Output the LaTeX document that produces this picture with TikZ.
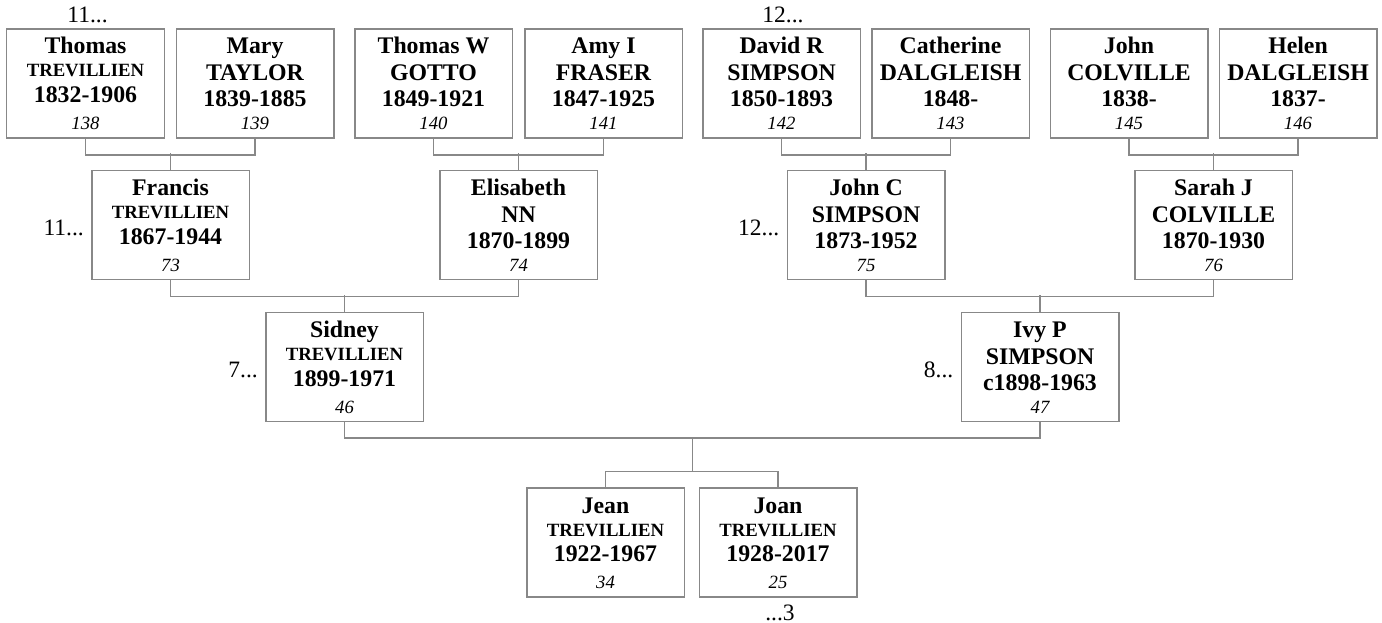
\documentclass[tikz,border=0pt]{standalone}
\usepackage{fontspec}
\setmainfont{Liberation Serif}
\definecolor{boxgray}{RGB}{136,136,136}
\tikzset{
  pbox/.style={draw=boxgray, line width=1.5bp, minimum width=157.5bp, minimum height=109bp, inner sep=0pt},
  conn/.style={draw=boxgray, line width=1.5bp},
  bigt/.style={font=\fontsize{23.8bp}{26bp}\selectfont\bfseries, inner sep=0pt, anchor=base},
  smallt/.style={font=\fontsize{18.7bp}{20bp}\selectfont\bfseries, inner sep=0pt, anchor=base},
  numt/.style={font=\fontsize{18.7bp}{20bp}\selectfont\itshape, inner sep=0pt, anchor=base},
  labt/.style={font=\fontsize{23.5bp}{26bp}\selectfont, inner sep=0pt},
}
% name, cx, top, line1, line2, line3, number
\newcommand\personA[7]{%
  \node[pbox] (#1) at (#2,#3+54.5) {};
  \node[bigt] (#1-a) at (#2,#3+25) {#4};
  \node[bigt] (#1-b) at (#2,#3+51.5) {#5};
  \node[bigt] (#1-c) at (#2,#3+78) {#6};
  \node[numt] (#1-d) at (#2,#3+100.5) {#7};
}
\newcommand\personB[7]{%
  \node[pbox] (#1) at (#2,#3+54.5) {};
  \node[bigt] (#1-a) at (#2,#3+25) {#4};
  \node[smallt] (#1-b) at (#2,#3+48) {#5};
  \node[bigt] (#1-c) at (#2,#3+73.5) {#6};
  \node[numt] (#1-d) at (#2,#3+100.5) {#7};
}
\begin{document}
\begin{tikzpicture}[x=1bp,y=-1bp]
\fill[white] (0,0) rectangle (1382,623);
\useasboundingbox (0,0) rectangle (1382,623);

% generation 1
\personB{thomas}{85.5}{29}{Thomas}{TREVILLIEN}{1832-1906}{138}
\personA{mary}{255}{29}{Mary}{TAYLOR}{1839-1885}{139}
\personA{thomasw}{433.5}{29}{Thomas W}{GOTTO}{1849-1921}{140}
\personA{amy}{603.5}{29}{Amy I}{FRASER}{1847-1925}{141}
\personA{david}{781.5}{29}{David R}{SIMPSON}{1850-1893}{142}
\personA{catherine}{950.5}{29}{Catherine}{DALGLEISH}{1848-}{143}
\personA{johncol}{1129}{29}{John}{COLVILLE}{1838-}{145}
\personA{helen}{1298}{29}{Helen}{DALGLEISH}{1837-}{146}

% generation 2
\personB{francis}{170.5}{170.5}{Francis}{TREVILLIEN}{1867-1944}{73}
\personA{elisabeth}{518.5}{170.5}{Elisabeth}{NN}{1870-1899}{74}
\personA{johnc}{866}{170.5}{John C}{SIMPSON}{1873-1952}{75}
\personA{sarah}{1213.5}{170.5}{Sarah J}{COLVILLE}{1870-1930}{76}

% generation 3
\personB{sidney}{344.5}{312.5}{Sidney}{TREVILLIEN}{1899-1971}{46}
\personA{ivy}{1040}{312.5}{Ivy P}{SIMPSON}{c1898-1963}{47}

% generation 4
\personB{jean}{605.5}{488}{Jean}{TREVILLIEN}{1922-1967}{34}
\personB{joan}{778}{488}{Joan}{TREVILLIEN}{1928-2017}{25}

% connectors generation 1 -> 2
\draw[conn] (thomas.south) -- ++(0,16) -| (mary.south);
\draw[conn] (francis.north) -- ++(0,-16.5);
\draw[conn] (thomasw.south) -- ++(0,16) -| (amy.south);
\draw[conn] (elisabeth.north) -- ++(0,-16.5);
\draw[conn] (david.south) -- ++(0,16) -| (catherine.south);
\draw[conn] (johnc.north) -- ++(0,-16.5);
\draw[conn] (johncol.south) -- ++(0,16) -| (helen.south);
\draw[conn] (sarah.north) -- ++(0,-16.5);

% connectors generation 2 -> 3
\draw[conn] (francis.south) -- ++(0,16.2) -| (elisabeth.south);
\draw[conn] (sidney.north) -- ++(0,-16.8);
\draw[conn] (johnc.south) -- ++(0,16.2) -| (sarah.south);
\draw[conn] (ivy.north) -- ++(0,-16.8);

% connectors generation 3 -> 4
\coordinate (couple) at (692.5,437);
\coordinate (sibs) at (692.5,472);
\draw[conn] (sidney.south) -- ++(0,15.5) -| (ivy.south);
\draw[conn] (couple) -- (sibs);
\draw[conn] (jean.north) -- ++(0,-16) -| (joan.north);

% continuation labels
\node[labt, anchor=base] (lab-thomas) at (87.5,23) {11...};
\node[labt, anchor=base] (lab-david) at (783,23) {12...};
\node[labt, anchor=base east] (lab-francis) at ([xshift=-7bp,yshift=-10bp]francis.west) {11...};
\node[labt, anchor=base east] (lab-johnc) at ([xshift=-7bp,yshift=-10bp]johnc.west) {12...};
\node[labt, anchor=base east] (lab-sidney) at ([xshift=-7bp,yshift=-10bp]sidney.west) {7...};
\node[labt, anchor=base east] (lab-ivy) at ([xshift=-7bp,yshift=-10bp]ivy.west) {8...};
\node[labt, anchor=base] (lab-joan) at (780,620) {...3};
\end{tikzpicture}
\end{document}
